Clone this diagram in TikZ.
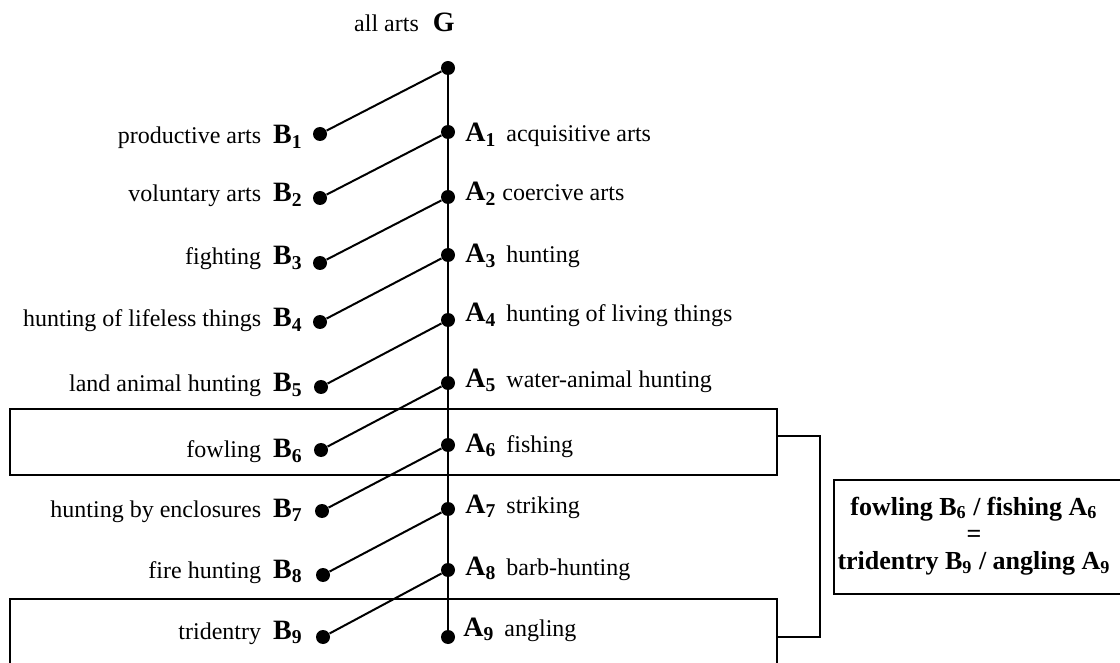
\documentclass[tikz,border=0pt]{standalone}
\usepackage{fontspec}
\setmainfont{Liberation Serif}
\newcommand{\nomlettre}[2]{{\fontsize{14}{16}\selectfont\bfseries #1\textsubscript{#2}}}
\tikzset{
  pastille/.style={circle,fill=black,inner sep=0pt,minimum size=7pt},
  trait/.style={line width=1pt},
  cadre/.style={draw,line width=0.9pt,inner sep=0pt},
  texte/.style={inner sep=0pt,font=\fontsize{12}{14}\selectfont},
}
\begin{document}
\begin{tikzpicture}[x=0.5pt,y=-0.5pt] % 1 unite = 1 pixel de l'image
\clip (0,0) rectangle (1120,663);
% les deux cadres et le crochet
\node[cadre,minimum width=383.5pt,minimum height=33pt] (boiteA) at (393.5,442) {};
\node[cadre,minimum width=383.5pt,minimum height=33pt] (boiteB) at (393.5,632) {};
\draw[cadre] ([yshift=3pt]boiteA.east) -- ++(42,0) |- ([yshift=-2.5pt]boiteB.east);
\node[cadre,anchor=north west,minimum width=152pt,minimum height=57pt] (egal) at (833,479) {};
\node[texte,align=center,font=\fontsize{13}{13.6}\selectfont\bfseries] (egaltexte) at (974,536)
  {fowling B\textsubscript{6} / fishing A\textsubscript{6}\\=\\tridentry B\textsubscript{9} / angling A\textsubscript{9}};
% les points
\node[pastille] (G) at (448,68) {};
\node[pastille] (A1) at (448,132) {};
\node[pastille] (A2) at (448,197) {};
\node[pastille] (A3) at (448,255) {};
\node[pastille] (A4) at (448,320) {};
\node[pastille] (A5) at (448,383) {};
\node[pastille] (A6) at (448,445) {};
\node[pastille] (A7) at (448,509) {};
\node[pastille] (A8) at (448,570) {};
\node[pastille] (A9) at (448,637) {};
\node[pastille] (B1) at (320,134) {};
\node[pastille] (B2) at (320,198) {};
\node[pastille] (B3) at (320,263) {};
\node[pastille] (B4) at (320,322) {};
\node[pastille] (B5) at (321,387) {};
\node[pastille] (B6) at (321,450) {};
\node[pastille] (B7) at (322,511) {};
\node[pastille] (B8) at (323,575) {};
\node[pastille] (B9) at (323,637) {};
% le tronc et les branches
\draw[trait] (G) -- (A9);
\draw[trait] (B1) -- (G);
\draw[trait] (B2) -- (A1);
\draw[trait] (B3) -- (A2);
\draw[trait] (B4) -- (A3);
\draw[trait] (B5) -- (A4);
\draw[trait] (B6) -- (A5);
\draw[trait] (B7) -- (A6);
\draw[trait] (B8) -- (A7);
\draw[trait] (B9) -- (A8);
% les etiquettes
\node[texte,anchor=base east] (tG) at (455,32) {all arts\hspace{7pt}{\fontsize{14}{16}\selectfont\bfseries G}};
\node[texte,anchor=base east] (tB1) at (303,144) {productive arts\hspace{6pt}\nomlettre{B}{1}};
\node[texte,anchor=base east] (tB2) at (303,202) {voluntary arts\hspace{6pt}\nomlettre{B}{2}};
\node[texte,anchor=base east] (tB3) at (303,265) {fighting\hspace{6pt}\nomlettre{B}{3}};
\node[texte,anchor=base east] (tB4) at (303,327) {hunting of lifeless things\hspace{6pt}\nomlettre{B}{4}};
\node[texte,anchor=base east] (tB5) at (303,392) {land animal hunting\hspace{6pt}\nomlettre{B}{5}};
\node[texte,anchor=base east] (tB6) at (303,458) {fowling\hspace{6pt}\nomlettre{B}{6}};
\node[texte,anchor=base east] (tB7) at (303,517) {hunting by enclosures\hspace{6pt}\nomlettre{B}{7}};
\node[texte,anchor=base east] (tB8) at (303,578) {fire hunting\hspace{6pt}\nomlettre{B}{8}};
\node[texte,anchor=base east] (tB9) at (303,639) {tridentry\hspace{6pt}\nomlettre{B}{9}};
\node[texte,anchor=base west] (tA1) at (465,142) {\nomlettre{A}{1}\hspace{5pt}acquisitive arts};
\node[texte,anchor=base west] (tA2) at (465,201) {\nomlettre{A}{2}\hspace{3pt}coercive arts};
\node[texte,anchor=base west] (tA3) at (465,263) {\nomlettre{A}{3}\hspace{5pt}hunting};
\node[texte,anchor=base west] (tA4) at (465,322) {\nomlettre{A}{4}\hspace{5pt}hunting of living things};
\node[texte,anchor=base west] (tA5) at (465,387) {\nomlettre{A}{5}\hspace{5pt}water-animal hunting};
\node[texte,anchor=base west] (tA6) at (465,452) {\nomlettre{A}{6}\hspace{5pt}fishing};
\node[texte,anchor=base west] (tA7) at (465,513) {\nomlettre{A}{7}\hspace{5pt}striking};
\node[texte,anchor=base west] (tA8) at (465,575) {\nomlettre{A}{8}\hspace{5pt}barb-hunting};
\node[texte,anchor=base west] (tA9) at (463,636) {\nomlettre{A}{9}\hspace{5pt}angling};
\end{tikzpicture}
\end{document}
